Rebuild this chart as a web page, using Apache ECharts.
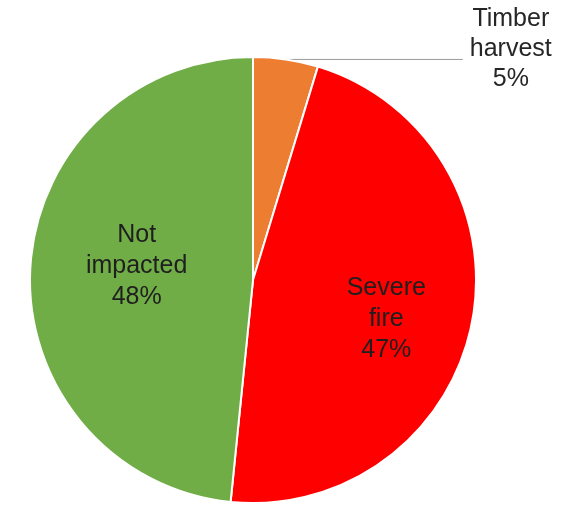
<!DOCTYPE html>
<html>
<head>
<meta charset="utf-8">
<script src="https://cdn.jsdelivr.net/npm/echarts@6/dist/echarts.min.js"></script>
<style>
html,body{margin:0;padding:0;background:#fff;}
#chart{width:577px;height:506px;}
</style>
</head>
<body>
<div id="chart"></div>
<script>
var categories = ['Timber harvest', 'Severe fire', 'Not impacted'];
var labelWords = [['Timber', 'harvest'], ['Severe', 'fire'], ['Not', 'impacted']];
var values = [4.7, 46.9, 48.4];
var colors = ['#ED7D31', '#FF0000', '#70AD47'];

var chart = echarts.init(document.getElementById('chart'));
var data = categories.map(function (c, i) {
  var item = { name: c, value: values[i], itemStyle: { color: colors[i] } };
  if (i === 0) {
    item.label = {
      position: 'outside',
      padding: [0, 0, 20, 0],
      formatter: function (p) {
        return labelWords[p.dataIndex].map(function (w) { return '{a|' + w + '}'; }).join('\n') + '\n{a|' + Math.round(p.percent) + '%}';
      },
      rich: { a: { width: 86, align: 'center', fontSize: 25, lineHeight: 30, color: '#262626', fontFamily: 'Liberation Sans, Arial, sans-serif' } }
    };
    item.labelLine = { show: true, length: 0, length2: 177, lineStyle: { color: '#9a9a9a', width: 1 } };
  }
  return item;
});

chart.setOption({
  animation: false,
  series: [{
    type: 'pie',
    center: [253, 280],
    radius: 223,
    startAngle: 90,
    clockwise: true,
    avoidLabelOverlap: false,
    itemStyle: { borderColor: '#ffffff', borderWidth: 2 },
    label: {
      show: true,
      position: 'inside',
      fontSize: 25,
      lineHeight: 31,
      color: '#1f1f1f',
      fontFamily: 'Liberation Sans, Arial, sans-serif',
      align: 'center',
      formatter: function (p) {
        return labelWords[p.dataIndex].join('\n') + '\n' + Math.round(p.percent) + '%';
      }
    },
    labelLine: { show: false },
    labelLayout: function (p) {
      if (p.dataIndex === 1) return { dx: 21, dy: 17 };
      if (p.dataIndex === 2) return { dx: -2, dy: -8 };
      return {};
    },
    emphasis: { disabled: true },
    data: data
  }]
});
</script>
</body>
</html>
